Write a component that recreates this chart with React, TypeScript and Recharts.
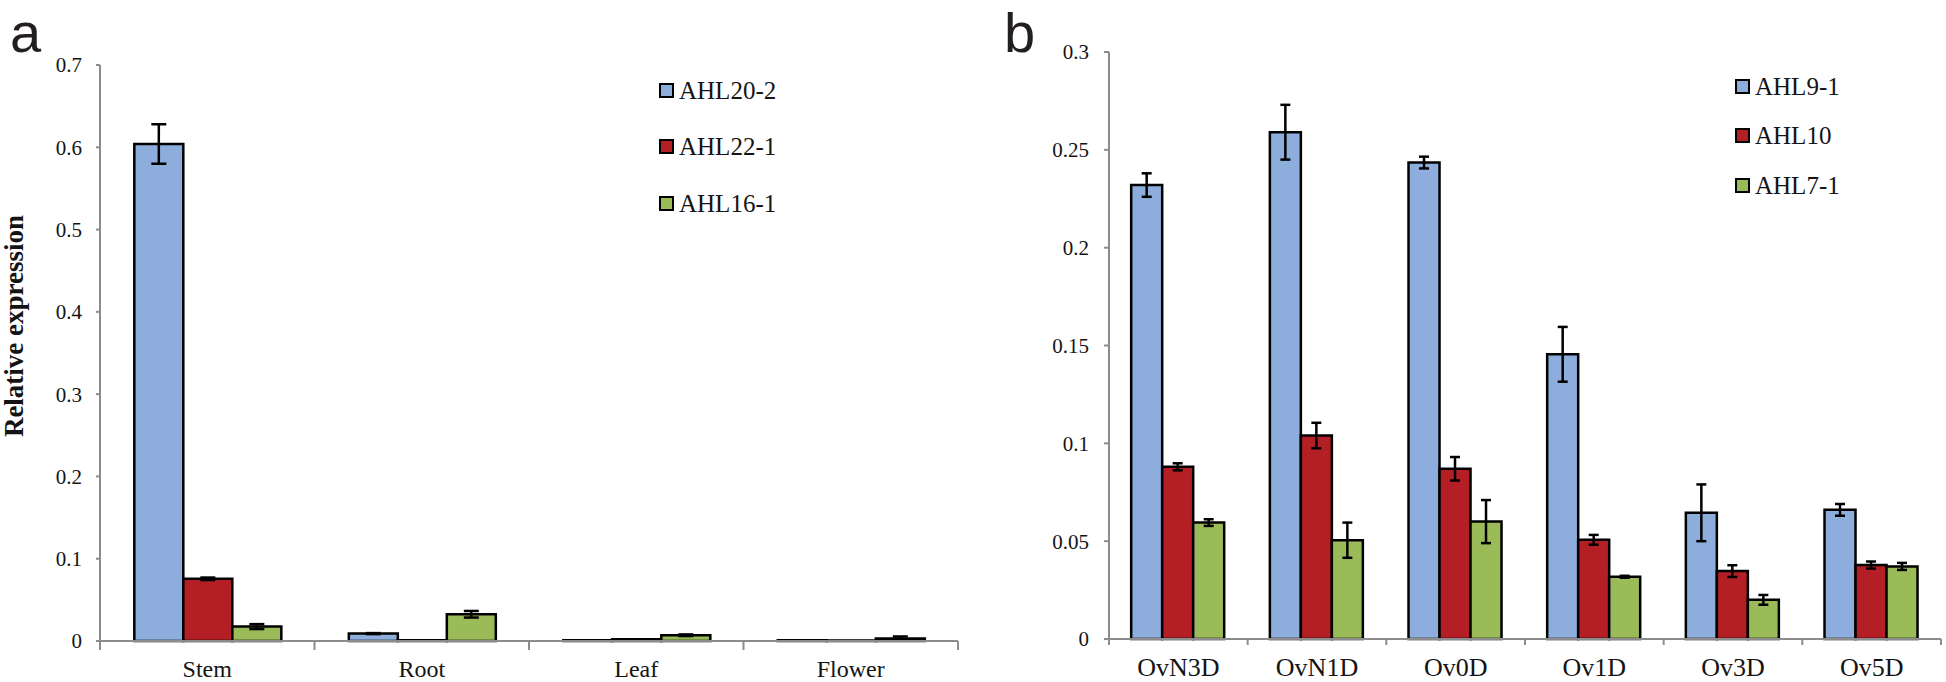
import React from 'react';
import { BarChart, Bar, XAxis, YAxis, ErrorBar, Legend } from 'recharts';

// ---------- Panel a data ----------
const tissueCategories = ['Stem', 'Root', 'Leaf', 'Flower'];
const seriesNamesA = ['AHL20-2', 'AHL22-1', 'AHL16-1'];
const ahl20_2 = [0.604, 0.009, 0.0008, 0.001];
const ahl20_2Err = [0.024, 0.0006, 0, 0];
const ahl22_1 = [0.0756, 0.0008, 0.002, 0.0005];
const ahl22_1Err = [0.0015, 0, 0, 0];
const ahl16_1 = [0.0175, 0.0325, 0.007, 0.003];
const ahl16_1Err = [0.003, 0.004, 0.001, 0.0025];
const yTicksA = [0, 0.1, 0.2, 0.3, 0.4, 0.5, 0.6, 0.7];

// ---------- Panel b data ----------
const stageCategories = ['OvN3D', 'OvN1D', 'Ov0D', 'Ov1D', 'Ov3D', 'Ov5D'];
const seriesNamesB = ['AHL9-1', 'AHL10', 'AHL7-1'];
const ahl9_1 = [0.232, 0.259, 0.2435, 0.1455, 0.0645, 0.066];
const ahl9_1Err = [0.006, 0.014, 0.003, 0.014, 0.0145, 0.003];
const ahl10 = [0.088, 0.104, 0.087, 0.0507, 0.0347, 0.0378];
const ahl10Err = [0.0018, 0.0065, 0.006, 0.0025, 0.003, 0.0018];
const ahl7_1 = [0.0595, 0.0505, 0.06, 0.0318, 0.02, 0.0371];
const ahl7_1Err = [0.0017, 0.009, 0.011, 0.0005, 0.0025, 0.0018];
const yTicksB = [0, 0.05, 0.1, 0.15, 0.2, 0.25, 0.3];

const COLORS = ['#8DAEDC', '#B41E25', '#9BBB59'];
const AXIS = '#8c8c8c';
const SERIF = '"Liberation Serif", "Times New Roman", serif';
const TEXT = '#141414';

const dataA = tissueCategories.map((c, i) => ({
  category: c,
  s1: ahl20_2[i], e1: ahl20_2Err[i],
  s2: ahl22_1[i], e2: ahl22_1Err[i],
  s3: ahl16_1[i], e3: ahl16_1Err[i],
}));

const dataB = stageCategories.map((c, i) => ({
  category: c,
  s1: ahl9_1[i], e1: ahl9_1Err[i],
  s2: ahl10[i], e2: ahl10Err[i],
  s3: ahl7_1[i], e3: ahl7_1Err[i],
}));

const makeXTick = (n: number, tickLen: number, labelDy: number, fontSize: number) => (props: any) => {
  const { x, y, payload, index } = props;
  const half = payload && payload.offset ? payload.offset : 0;
  return (
    <g>
      <line x1={x - half} y1={y} x2={x - half} y2={y + tickLen} stroke={AXIS} strokeWidth={2} />
      {index === n - 1 ? (
        <line x1={x + half} y1={y} x2={x + half} y2={y + tickLen} stroke={AXIS} strokeWidth={2} />
      ) : null}
      <text x={x} y={y + labelDy} textAnchor="middle" fontFamily={SERIF} fontSize={fontSize} fill={TEXT}>
        {payload.value}
      </text>
    </g>
  );
};

const makeLegend = (rowH: number, order: string[]) => (props: any) => {
  const payload = [...(props.payload || [])].sort(
    (a: any, b: any) => order.indexOf(a.value) - order.indexOf(b.value)
  );
  return (
    <div>
      {payload.map((p: any, i: number) => (
        <div key={i} style={{ display: 'flex', alignItems: 'center', height: rowH }}>
          <span
            style={{
              display: 'inline-block',
              boxSizing: 'border-box',
              width: 15,
              height: 15,
              border: '2px solid #000',
              background: p.color,
              marginRight: 5,
            }}
          />
          <span style={{ fontFamily: SERIF, fontSize: 25, lineHeight: 1, color: TEXT, whiteSpace: 'nowrap' }}>
            {p.value}
          </span>
        </div>
      ))}
    </div>
  );
};

const renderYLabelA = () => (
  <text
    x={14}
    y={326}
    transform="rotate(-90, 14, 326)"
    textAnchor="middle"
    dominantBaseline="central"
    fontFamily={SERIF}
    fontWeight="bold"
    fontSize={27}
    fill={TEXT}
  >
    Relative expression
  </text>
);

export default function App() {
  return (
    <div style={{ position: 'absolute', left: 0, top: 0, width: 1946, height: 682, background: '#fff' }}>
      <svg width={1946} height={682} style={{ position: 'absolute', left: 0, top: 0 }}>
        <text x={10} y={52} fontFamily='"Liberation Sans", Arial, sans-serif' fontSize={56} fill="#231f20">a</text>
        <text x={1004} y={52} fontFamily='"Liberation Sans", Arial, sans-serif' fontSize={56} fill="#231f20">b</text>
      </svg>

      <div style={{ position: 'absolute', left: 0, top: 0 }}>
        <BarChart
          width={980}
          height={682}
          data={dataA}
          margin={{ top: 65, right: 22, bottom: 0, left: 0 }}
          barGap={0}
          barCategoryGap="16%"
        >
          <XAxis
            dataKey="category"
            height={41}
            axisLine={{ stroke: AXIS, strokeWidth: 2 }}
            tickLine={false}
            tickSize={0}
            tickMargin={0}
            interval={0}
            tick={makeXTick(tissueCategories.length, 9, 36, 24)}
          />
          <YAxis
            width={100}
            domain={[0, 0.7]}
            ticks={yTicksA}
            interval={0}
            axisLine={{ stroke: AXIS, strokeWidth: 2 }}
            tickLine={{ stroke: AXIS, strokeWidth: 2 }}
            tickSize={4}
            tickMargin={14}
            tick={{ fontFamily: SERIF, fontSize: 21, fill: TEXT }}
            label={renderYLabelA}
          />
          <Legend
            layout="horizontal"
            verticalAlign="middle"
            align="center"
            content={makeLegend(56.5, seriesNamesA)}
            wrapperStyle={{ left: 659, top: 61.75, width: 'auto', height: 'auto' }}
          />
          <Bar dataKey="s1" name={seriesNamesA[0]} fill={COLORS[0]} stroke="#000" strokeWidth={2.5} isAnimationActive={false}>
            <ErrorBar dataKey="e1" width={7.5} strokeWidth={2.5} stroke="#000" direction="y" isAnimationActive={false} />
          </Bar>
          <Bar dataKey="s2" name={seriesNamesA[1]} fill={COLORS[1]} stroke="#000" strokeWidth={2.5} isAnimationActive={false}>
            <ErrorBar dataKey="e2" width={7.5} strokeWidth={2.5} stroke="#000" direction="y" isAnimationActive={false} />
          </Bar>
          <Bar dataKey="s3" name={seriesNamesA[2]} fill={COLORS[2]} stroke="#000" strokeWidth={2.5} isAnimationActive={false}>
            <ErrorBar dataKey="e3" width={7.5} strokeWidth={2.5} stroke="#000" direction="y" isAnimationActive={false} />
          </Bar>
        </BarChart>
      </div>

      <div style={{ position: 'absolute', left: 980, top: 0 }}>
        <BarChart
          width={966}
          height={682}
          data={dataB}
          margin={{ top: 52, right: 5, bottom: 0, left: 0 }}
          barGap={0}
          barCategoryGap="16%"
        >
          <XAxis
            dataKey="category"
            height={43}
            axisLine={{ stroke: AXIS, strokeWidth: 2 }}
            tickLine={false}
            tickSize={0}
            tickMargin={0}
            interval={0}
            tick={makeXTick(stageCategories.length, 6, 37, 26)}
          />
          <YAxis
            width={129}
            domain={[0, 0.3]}
            ticks={yTicksB}
            interval={0}
            axisLine={{ stroke: AXIS, strokeWidth: 2 }}
            tickLine={{ stroke: AXIS, strokeWidth: 2 }}
            tickSize={5}
            tickMargin={15}
            tick={{ fontFamily: SERIF, fontSize: 21, fill: TEXT }}
          />
          <Legend
            layout="horizontal"
            verticalAlign="middle"
            align="center"
            content={makeLegend(49.5, seriesNamesB)}
            wrapperStyle={{ left: 755, top: 61.25, width: 'auto', height: 'auto' }}
          />
          <Bar dataKey="s1" name={seriesNamesB[0]} fill={COLORS[0]} stroke="#000" strokeWidth={2.5} isAnimationActive={false}>
            <ErrorBar dataKey="e1" width={5} strokeWidth={2.5} stroke="#000" direction="y" isAnimationActive={false} />
          </Bar>
          <Bar dataKey="s2" name={seriesNamesB[1]} fill={COLORS[1]} stroke="#000" strokeWidth={2.5} isAnimationActive={false}>
            <ErrorBar dataKey="e2" width={5} strokeWidth={2.5} stroke="#000" direction="y" isAnimationActive={false} />
          </Bar>
          <Bar dataKey="s3" name={seriesNamesB[2]} fill={COLORS[2]} stroke="#000" strokeWidth={2.5} isAnimationActive={false}>
            <ErrorBar dataKey="e3" width={5} strokeWidth={2.5} stroke="#000" direction="y" isAnimationActive={false} />
          </Bar>
        </BarChart>
      </div>
    </div>
  );
}
